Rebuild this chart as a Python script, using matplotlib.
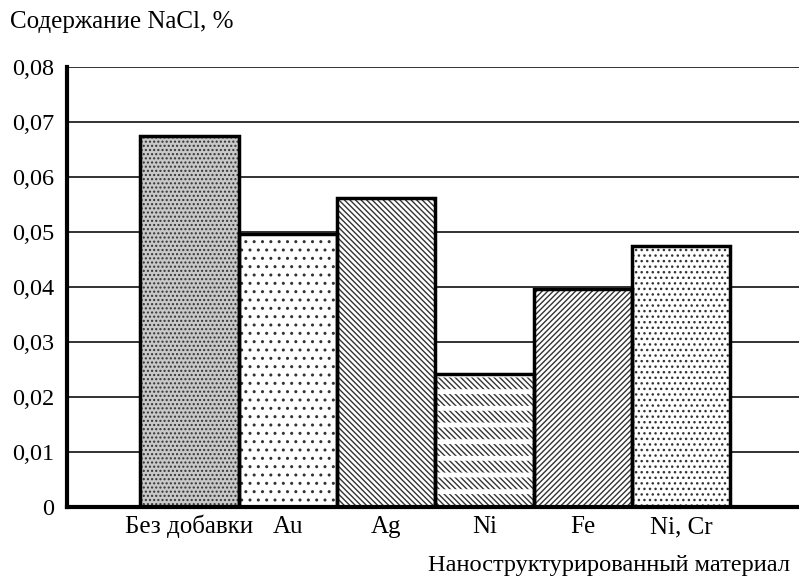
import matplotlib
matplotlib.use("Agg")
import matplotlib.pyplot as plt
import numpy as np

# values
materials = ["Без добавки", "Au", "Ag", "Ni", "Fe", "Ni, Cr"]
nacl = [0.0675, 0.0496, 0.0561, 0.0241, 0.0396, 0.0475]
yticks = [0, 0.01, 0.02, 0.03, 0.04, 0.05, 0.06, 0.07, 0.08]
ytick_labels = ["0", "0,01", "0,02", "0,03", "0,04", "0,05", "0,06", "0,07", "0,08"]

plt.rcParams["font.family"] = ["Liberation Serif", "DejaVu Serif"]
plt.rcParams["hatch.linewidth"] = 1.0

fig = plt.figure(figsize=(7.99, 5.76), dpi=100)
ax = fig.add_axes([67 / 799, 69 / 576, 732 / 799, 440 / 576])

x = np.arange(len(materials))
w = 1.0

# fills for each bar (face, hatch)
styles = [
    ("#c8c8c8", "...."),
    ("white", ".."),
    ("white", "\\" * 6),
    ("white", "\\" * 6),
    ("white", "/" * 6),
    ("white", "..."),
]

for i, (fc, h) in enumerate(styles):
    ax.bar(x[i], nacl[i], width=w, color=fc, hatch=h, edgecolor="#333333",
           linewidth=0, zorder=2)

# Ni: break the diagonal lines into short dashes with white horizontal stripes
stripes = ax.bar(x[3], nacl[3], width=w, facecolor="none", hatch="-", edgecolor="white",
                 linewidth=0, zorder=3)
for p in stripes:
    try:
        p.set_hatch_linewidth(3.5)
    except AttributeError:
        pass

# outlines
ax.bar(x, nacl, width=w, facecolor="none", edgecolor="black", linewidth=2.5, zorder=4)

ax.set_xlim(-1.246, 6.2)
ax.set_ylim(0, 0.08)
ax.set_yticks(yticks)
ax.set_yticklabels(ytick_labels)
ax.set_xticks(x)
ax.set_xticklabels(materials)
ax.tick_params(axis="both", length=0, labelsize=18)
ax.tick_params(axis="y", labelsize=17.5, pad=9)
ax.tick_params(axis="x", pad=19)
for lbl in ax.get_xticklabels():
    lbl.set_va("baseline")

ax.yaxis.grid(True, color="#222222", linewidth=1.3, zorder=0)
ax.set_axisbelow(True)
for s in ["top", "right"]:
    ax.spines[s].set_visible(False)
ax.spines["left"].set_linewidth(3)
ax.spines["bottom"].set_linewidth(3)
ax.spines["bottom"].set_zorder(5)

fig.text(10 / 799, 1 - 22 / 576, "Содержание NaCl, %", fontsize=18, va="center", ha="left")
fig.text(428 / 799, 1 - 566 / 576, "Наноструктурированный материал", fontsize=17.6,
         va="center", ha="left")

fig.savefig("out.png", dpi=100)
